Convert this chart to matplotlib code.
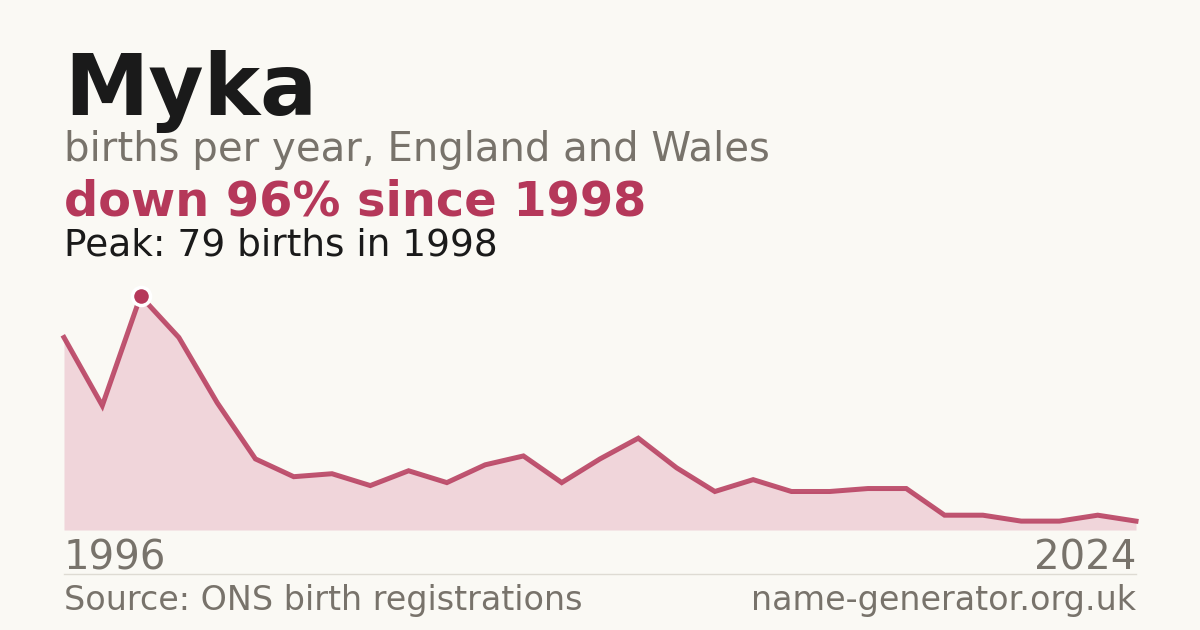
import numpy as np
import matplotlib.pyplot as plt

years = list(range(1996, 2025))
births = [65, 42, 79, 65, 43, 24, 18, 19, 15, 20, 16, 22, 25, 16, 24, 31,
          21, 13, 17, 13, 13, 14, 14, 5, 5, 3, 3, 5, 3]
peak_year = 1998
peak_value = 79

bg = '#faf9f4'
red = '#b5385a'
fill = '#f0d5da'
grey = '#78736b'
dark = '#1a1a1a'

fig = plt.figure(figsize=(12, 6.3), dpi=100, facecolor=bg)

# chart area
ax = fig.add_axes([64/1200, 100/630, 1072/1200, 234/630])
ax.set_facecolor(bg)
ax.fill_between(years, births, 0, color=fill, lw=0)
ax.plot(years, births, color=red, lw=3.6, alpha=0.85, solid_joinstyle='miter', clip_on=False)
ax.plot([peak_year], [peak_value], marker='o', ms=13, color=red, mec='white', mew=2.5, clip_on=False, zorder=5)
ax.set_xlim(years[0], years[-1])
ax.set_ylim(0, peak_value)
ax.axis('off')

# header texts
fig.text(64/1200, 1 - 115/630, 'Myka', fontsize=61, fontweight='bold', color=dark)
fig.text(64/1200, 1 - 161/630, 'births per year, England and Wales', fontsize=29, color=grey)
fig.text(64/1200, 1 - 215/630, 'down 96% since 1998', fontsize=34.5, fontweight='bold', color=red)
fig.text(64/1200, 1 - 255/630, 'Peak: 79 births in 1998', fontsize=27, color=dark)

# axis end labels
fig.text(64/1200, 1 - 570/630, str(years[0]), fontsize=29, color=grey)
fig.text(1136/1200, 1 - 570/630, str(years[-1]), fontsize=29, color=grey, ha='right')
fig.add_artist(plt.Line2D([64/1200, 1136/1200], [1 - 574/630, 1 - 574/630], color='#dedbd3', lw=1))

# footer
fig.text(64/1200, 1 - 610/630, 'Source: ONS birth registrations', fontsize=24, color=grey)
fig.text(1136/1200, 1 - 610/630, 'name-generator.org.uk', fontsize=24, color=grey, ha='right')

fig.savefig('out.png', dpi=100, facecolor=bg)
